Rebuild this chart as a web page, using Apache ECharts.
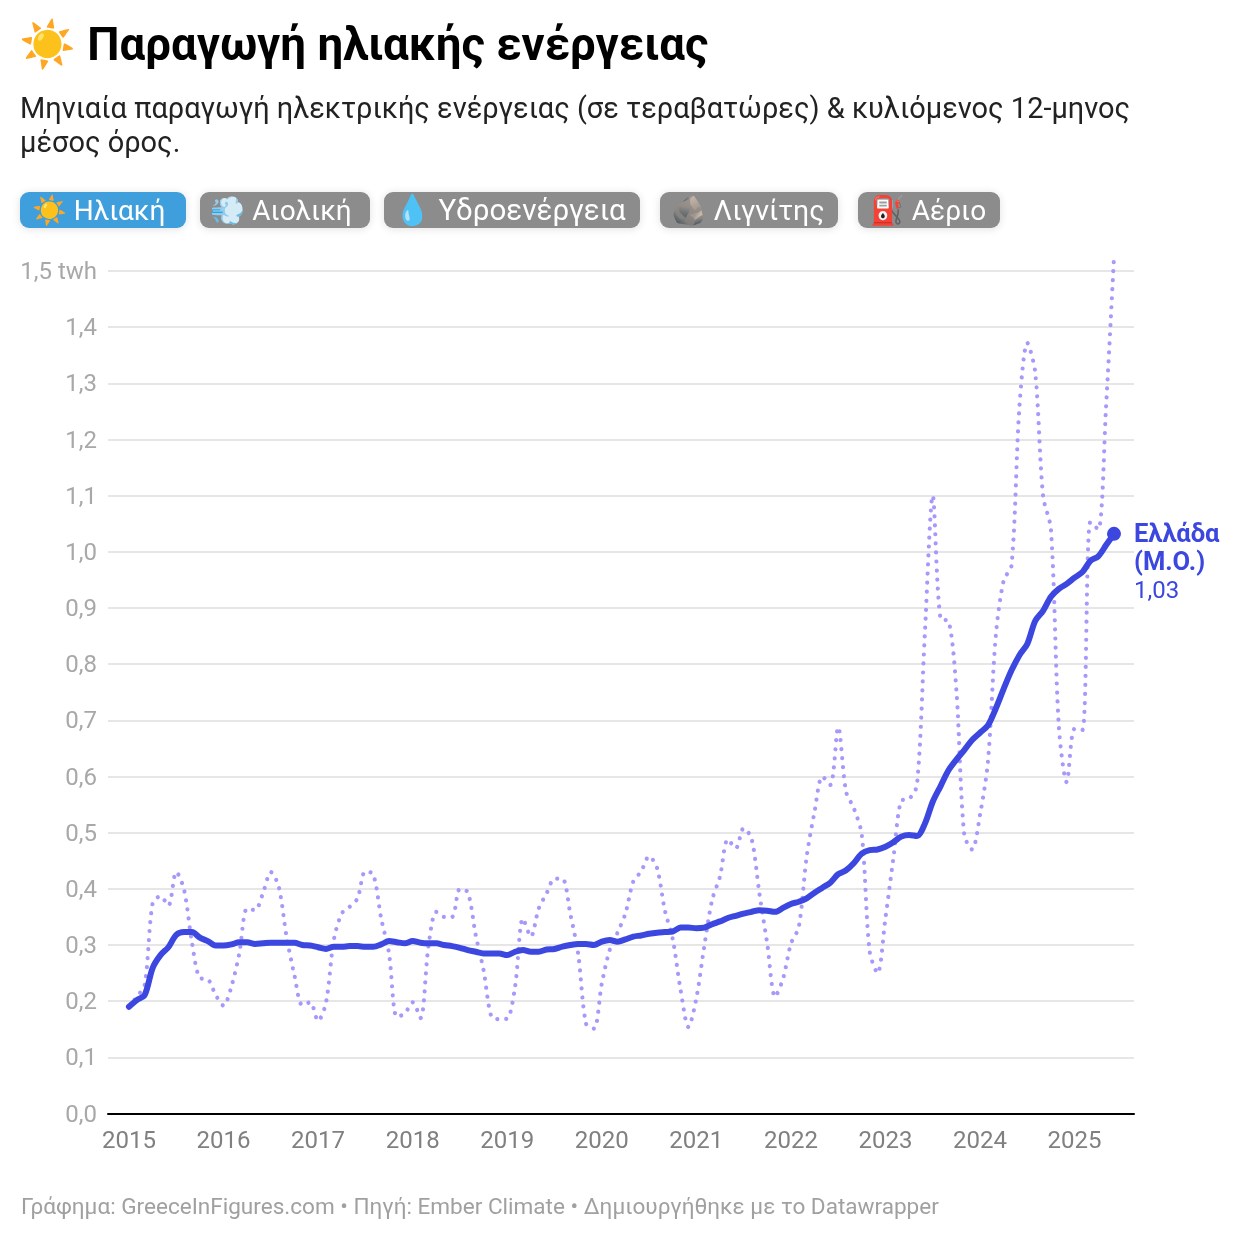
<!DOCTYPE html>
<html>
<head>
<meta charset="utf-8">
<script src="https://cdn.jsdelivr.net/npm/echarts@6/dist/echarts.min.js"></script>
<style>
  html, body { margin: 0; padding: 0; background: #fff; }
  #chart { width: 1240px; height: 1240px; }
</style>
</head>
<body>
<div id="chart"></div>
<script>
const yearTicks = [2015, 2016, 2017, 2018, 2019, 2020, 2021, 2022, 2023, 2024, 2025];
const yTicks = [0, 0.1, 0.2, 0.3, 0.4, 0.5, 0.6, 0.7, 0.8, 0.9, 1.0, 1.1, 1.2, 1.3, 1.4, 1.5];

// monthly generation in TWh, Jan 2015 - Jun 2025
const monthly = [
  0.190, 0.208, 0.229, 0.374, 0.387, 0.370, 0.430, 0.398, 0.304, 0.241, 0.239, 0.211,
  0.192, 0.226, 0.285, 0.365, 0.362, 0.392, 0.430, 0.404, 0.315, 0.246, 0.193, 0.198,
  0.165, 0.197, 0.309, 0.356, 0.368, 0.383, 0.431, 0.426, 0.348, 0.285, 0.172, 0.178,
  0.198, 0.170, 0.297, 0.359, 0.350, 0.350, 0.400, 0.394, 0.318, 0.255, 0.172, 0.168,
  0.169, 0.226, 0.347, 0.315, 0.365, 0.392, 0.418, 0.418, 0.356, 0.285, 0.160, 0.151,
  0.231, 0.291, 0.322, 0.356, 0.413, 0.431, 0.458, 0.438, 0.362, 0.311, 0.220, 0.154,
  0.205, 0.297, 0.380, 0.422, 0.488, 0.472, 0.508, 0.490, 0.392, 0.302, 0.208, 0.240,
  0.302, 0.332, 0.457, 0.537, 0.600, 0.585, 0.688, 0.573, 0.543, 0.496, 0.288, 0.250,
  0.348, 0.454, 0.557, 0.560, 0.585, 0.855, 1.100, 0.880, 0.877, 0.754, 0.496, 0.470,
  0.532, 0.626, 0.850, 0.949, 0.976, 1.258, 1.372, 1.320, 1.100, 1.040, 0.690, 0.590,
  0.685, 0.683, 1.053, 1.040, 1.260, 1.525
];

// rolling 12-month mean
const rolling = [
  0.190, 0.202, 0.211, 0.259, 0.282, 0.296, 0.318, 0.323, 0.323, 0.313, 0.307, 0.299,
  0.299, 0.301, 0.305, 0.305, 0.302, 0.303, 0.304, 0.304, 0.304, 0.304, 0.300, 0.299,
  0.296, 0.293, 0.297, 0.297, 0.298, 0.298, 0.297, 0.297, 0.301, 0.307, 0.305, 0.303,
  0.307, 0.304, 0.303, 0.303, 0.300, 0.298, 0.295, 0.291, 0.288, 0.285, 0.285, 0.285,
  0.282, 0.288, 0.291, 0.288, 0.288, 0.292, 0.293, 0.297, 0.300, 0.302, 0.302, 0.300,
  0.306, 0.309, 0.306, 0.310, 0.315, 0.317, 0.320, 0.322, 0.323, 0.324, 0.331, 0.331,
  0.330, 0.331, 0.337, 0.342, 0.348, 0.352, 0.356, 0.359, 0.362, 0.361, 0.359, 0.366,
  0.373, 0.377, 0.383, 0.393, 0.402, 0.411, 0.426, 0.433, 0.446, 0.463, 0.469, 0.470,
  0.475, 0.483, 0.493, 0.496, 0.494, 0.516, 0.555, 0.583, 0.611, 0.630, 0.647, 0.665,
  0.678, 0.691, 0.721, 0.756, 0.789, 0.816, 0.836, 0.877, 0.895, 0.920, 0.934, 0.943,
  0.954, 0.964, 0.984, 0.992, 1.012, 1.032
];

const sourceLabels = ['☀️ Ηλιακή', '💨 Αιολική', '💧 Υδροενέργεια', '🪨 Λιγνίτης', '⛽ Αέριο'];

const FONT = 'Roboto';
const chart = echarts.init(document.getElementById('chart'));

// x is months since Jan 2015
const monthOf = y => (y - yearTicks[0]) * 12;

// left, width, font size, text nudge
const pillBoxes = [[20, 166, 28, -4.5], [200, 170, 28, -4], [384, 256, 29.5, -2], [660, 178, 28.5, -1], [858, 142, 28, -1]];
const pills = sourceLabels.map((label, i) => ({
  type: 'rect',
  shape: { x: pillBoxes[i][0], y: 192, width: pillBoxes[i][1], height: 36, r: 9 },
  style: {
    fill: i === 0 ? '#3f9fdd' : '#8c8c8c',
    shadowBlur: 8, shadowColor: 'rgba(0,0,0,0.12)', shadowOffsetY: 1
  },
  textContent: {
    style: { text: label, fill: '#fff', font: `${pillBoxes[i][2]}px ${FONT}` }
  },
  textConfig: { position: 'inside', offset: [pillBoxes[i][3], 3] }
}));

chart.setOption({
  animation: false,
  backgroundColor: '#fff',
  textStyle: { fontFamily: FONT },
  title: [
    {
      text: '☀️ Παραγωγή ηλιακής ενέργειας', left: 19, top: 26, padding: 0,
      textStyle: { fontFamily: FONT, fontSize: 45.6, fontWeight: 700, color: '#000' }
    },
    {
      text: 'Μηνιαία παραγωγή ηλεκτρικής ενέργειας (σε τεραβατώρες) & κυλιόμενος 12-μηνος\nμέσος όρος.',
      left: 20, top: 94, padding: 0,
      textStyle: { fontFamily: FONT, fontSize: 28.95, fontWeight: 400, color: '#222', lineHeight: 34 }
    },
    {
      text: 'Γράφημα: GreeceInFigures.com • Πηγή: Ember Climate • Δημιουργήθηκε με το Datawrapper',
      left: 21, top: 1197, padding: 0,
      textStyle: { fontFamily: FONT, fontSize: 22.55, fontWeight: 400, color: '#a0a0a0' }
    }
  ],
  graphic: pills,
  grid: { left: 108, top: 271, width: 1026, height: 842.5 },
  xAxis: {
    type: 'value',
    min: -2.66,
    max: 127.54,
    splitLine: { show: false },
    axisLine: { lineStyle: { color: '#000', width: 2 } },
    axisTick: { show: false },
    axisLabel: {
      customValues: yearTicks.map(monthOf),
      formatter: v => String(yearTicks[0] + v / 12),
      color: '#808080', fontSize: 24, margin: 16, showMinLabel: true, showMaxLabel: true
    }
  },
  yAxis: {
    type: 'value',
    min: 0,
    max: 1.5,
    interval: 0.1,
    axisLine: { show: false },
    axisTick: { show: false },
    splitLine: { lineStyle: { color: '#e6e6e6', width: 2 } },
    axisLabel: {
      margin: 11, color: '#a8a8a8', fontSize: 24,
      verticalAlign: 'top', padding: [-10, 0, 0, 0],
      formatter: v => {
        const s = v.toFixed(1).replace('.', ',');
        return v === yTicks[yTicks.length - 1] ? s + ' twh' : s;
      }
    }
  },
  series: [
    {
      name: 'monthly',
      type: 'line',
      data: monthly.map((v, i) => [i, v]),
      showSymbol: false,
      clip: false,
      smooth: 0.3,
      lineStyle: { color: '#a898fb', width: 4.2, type: [0.01, 9], cap: 'round', join: 'round', opacity: 1 }
    },
    {
      name: 'rolling',
      type: 'line',
      data: rolling.map((v, i) => [i, v]),
      showSymbol: false,
      clip: false,
      smooth: 0.3,
      lineStyle: { color: '#3b47df', width: 6, cap: 'round', join: 'round' }
    },
    {
      name: 'end',
      type: 'scatter',
      data: [[rolling.length - 1, rolling[rolling.length - 1]]],
      symbolSize: 14,
      clip: false,
      itemStyle: { color: '#3b47df', opacity: 1 },
      label: {
        show: true,
        position: [27, -5],
        align: 'left',
        verticalAlign: 'top',
        formatter: () => '{b|Ελλάδα}\n{b|(Μ.Ο.)}\n{n|1,03}',
        rich: {
          b: { fontFamily: FONT, fontSize: 25.5, fontWeight: 700, color: '#3b47df', lineHeight: 28 },
          n: { fontFamily: FONT, fontSize: 24, fontWeight: 400, color: '#3b47df', lineHeight: 28 }
        }
      }
    }
  ]
});
</script>
</body>
</html>
